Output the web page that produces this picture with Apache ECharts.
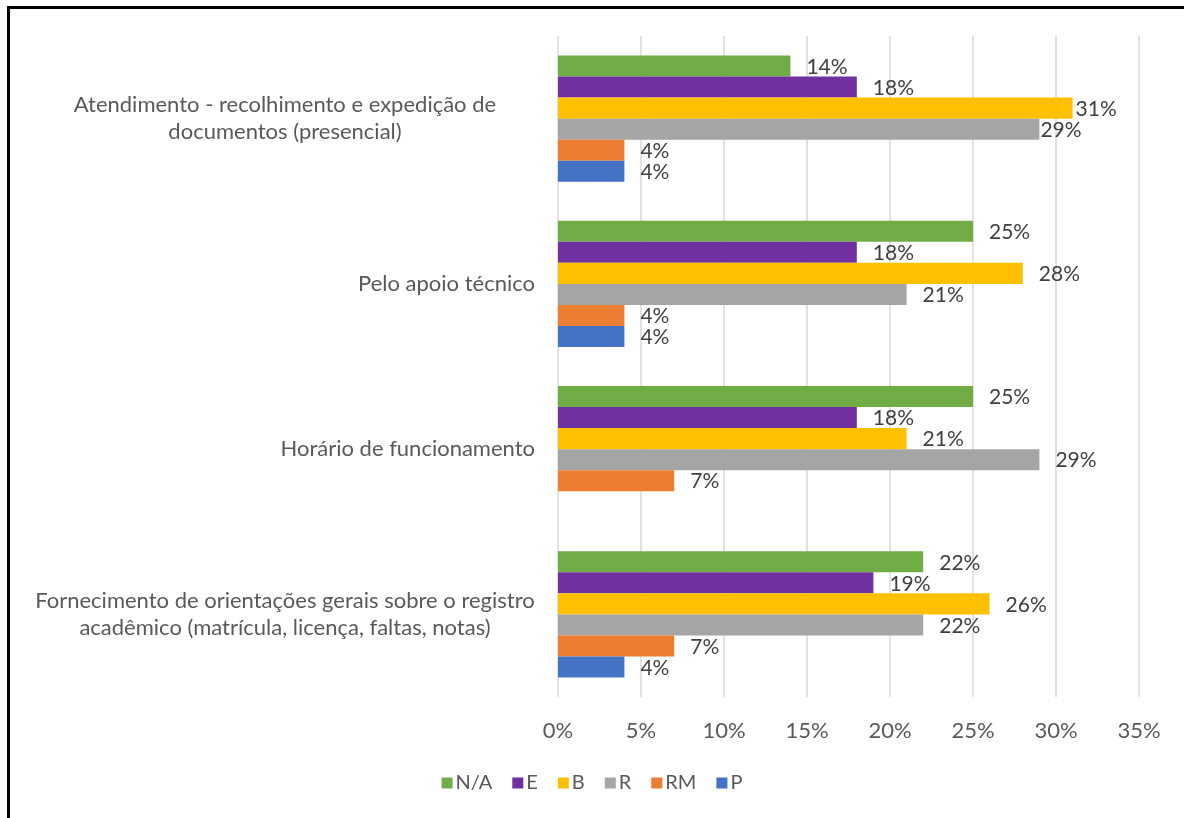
<!DOCTYPE html>
<html>
<head>
<meta charset="utf-8">
<script src="https://cdn.jsdelivr.net/npm/echarts@6/dist/echarts.min.js"></script>
<style>
  html, body { margin: 0; padding: 0; background: #ffffff; }
  #chart { width: 1184px; height: 818px; }
</style>
</head>
<body>
<div id="chart"></div>
<script>
// Categories, bottom to top (category axis runs upward)
const categories = [
  'Fornecimento de orientações gerais sobre o registro\nacadêmico (matrícula, licença, faltas, notas)',
  'Horário de funcionamento',
  'Pelo apoio técnico',
  'Atendimento - recolhimento e expedição de\ndocumentos (presencial)'
];

// Rating series, one value per category (percent)
const seriesNames = ['N/A', 'E', 'B', 'R', 'RM', 'P'];
const valuesNA = [22, 25, 25, 14];
const valuesE  = [19, 18, 18, 18];
const valuesB  = [26, 21, 28, 31];
const valuesR  = [22, 29, 21, 29];
const valuesRM = [7, 7, 4, 4];
const valuesP  = [4, null, 4, 4];

// Axis tick labels
const xTicks = ['0%', '5%', '10%', '15%', '20%', '25%', '30%', '35%'];

const seriesValues = [valuesNA, valuesE, valuesB, valuesR, valuesRM, valuesP];
const colors = ['#70AD47', '#7030A0', '#FFC000', '#A5A5A5', '#ED7D31', '#4472C4'];

const FONT = 'Lato';
const AXIS_SIZE = 22;
const LABEL_SIZE = 21;
const LEGEND_SIZE = 20;

// Labels that sit closer to the bar end to avoid crowding: key "category,series"
const labelDistance = { '3,2': 3, '3,3': 1 };

// Width of a text line, so wrapped category lines can be centred
function textWidth(str, size) {
  const c = document.createElement('canvas').getContext('2d');
  c.font = size + 'px ' + FONT;
  return Math.ceil(c.measureText(str).width);
}

const wrappedLines = categories.filter(c => c.includes('\n')).flatMap(c => c.split('\n'));
const wrapWidth = Math.max(...wrappedLines.map(l => textWidth(l, AXIS_SIZE)));

const chart = echarts.init(document.getElementById('chart'), null, { renderer: 'canvas' });

const series = seriesNames.map((name, si) => ({
  name: name,
  type: 'bar',
  barGap: '0%',
  barCategoryGap: '23.75%',
  itemStyle: { color: colors[si] },
  label: {
    show: true,
    position: 'right',
    distance: 16,
    offset: [0, 1],
    formatter: p => p.value + '%',
    color: '#404040',
    fontFamily: FONT,
    fontSize: LABEL_SIZE
  },
  data: seriesValues[si].map((v, ci) => {
    const d = labelDistance[ci + ',' + si];
    return d !== undefined ? { value: v, label: { distance: d } } : v;
  })
}));

chart.setOption({
  animation: false,
  backgroundColor: '#ffffff',
  textStyle: { fontFamily: FONT },
  grid: { left: 558, right: 45, top: 36, bottom: 121, containLabel: false },
  xAxis: {
    type: 'value',
    min: 0,
    max: 35,
    interval: 5,
    axisLine: { show: false },
    axisTick: { show: false },
    splitLine: { show: true, lineStyle: { color: '#D9D9D9', width: 1.5 } },
    axisLabel: {
      margin: 23,
      color: '#595959',
      fontFamily: FONT,
      fontSize: AXIS_SIZE,
      formatter: (v) => xTicks[Math.round(v / 5)]
    }
  },
  yAxis: {
    type: 'category',
    data: categories,
    axisLine: { show: false },
    axisTick: { show: false },
    axisLabel: {
      margin: 23,
      color: '#595959',
      fontFamily: FONT,
      fontSize: AXIS_SIZE,
      lineHeight: 27,
      align: 'right',
      formatter: (v) => {
        const lines = v.split('\n');
        if (lines.length === 1) return v;
        return lines.map(l => '{c|' + l + '}').join('\n');
      },
      rich: {
        c: {
          width: wrapWidth,
          align: 'center',
          color: '#595959',
          fontFamily: FONT,
          fontSize: AXIS_SIZE,
          lineHeight: 27
        }
      }
    }
  },
  legend: {
    data: seriesNames,
    bottom: 20,
    left: 'center',
    icon: 'rect',
    itemWidth: 11,
    itemHeight: 11,
    itemGap: 20,
    textStyle: { color: '#595959', fontFamily: FONT, fontSize: LEGEND_SIZE, padding: [0, 0, 0, -2] }
  },
  graphic: [{
    type: 'rect',
    shape: { x: 8.5, y: 7.5, width: 1200, height: 850 },
    style: { fill: null, stroke: '#000000', lineWidth: 3 },
    silent: true
  }],
  series: series
});
</script>
</body>
</html>
